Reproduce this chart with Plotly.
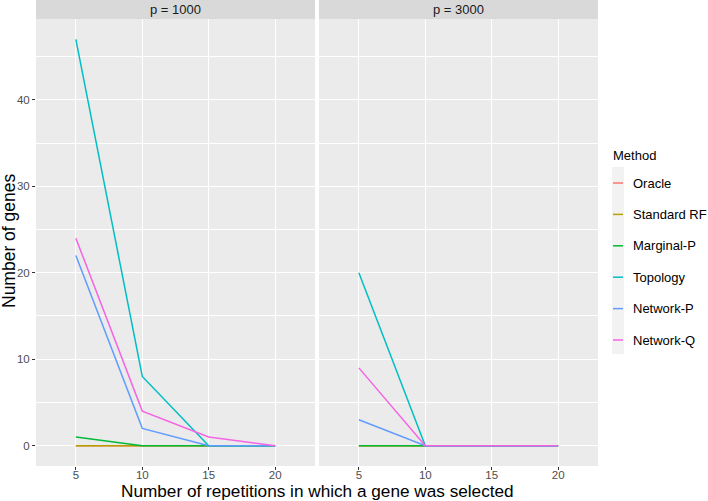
import plotly.graph_objects as go

# ---- data ----
reps = [5, 10, 15, 20]
methods = ["Oracle", "Standard RF", "Marginal-P", "Topology", "Network-P", "Network-Q"]
colors = ["#F8766D", "#B79F00", "#00BA38", "#00BFC4", "#619CFF", "#F564E3"]
panels = ["p = 1000", "p = 3000"]

p1000_oracle = [0, 0, 0, 0]
p1000_standard_rf = [0, 0, 0, 0]
p1000_marginal_p = [1, 0, 0, 0]
p1000_topology = [47, 8, 0, 0]
p1000_network_p = [22, 2, 0, 0]
p1000_network_q = [24, 4, 1, 0]

p3000_oracle = [0, 0, 0, 0]
p3000_standard_rf = [0, 0, 0, 0]
p3000_marginal_p = [0, 0, 0, 0]
p3000_topology = [20, 0, 0, 0]
p3000_network_p = [3, 0, 0, 0]
p3000_network_q = [9, 0, 0, 0]

y_ticks = [0, 10, 20, 30, 40]
y_minor = [5, 15, 25, 35, 45]

panel_data = [
    [p1000_oracle, p1000_standard_rf, p1000_marginal_p, p1000_topology, p1000_network_p, p1000_network_q],
    [p3000_oracle, p3000_standard_rf, p3000_marginal_p, p3000_topology, p3000_network_p, p3000_network_q],
]

# ---- layout geometry (pixels) ----
W, H = 708, 501
L, R, T, B = 36, 598, 19, 466
PW, PH = R - L, B - T
FONT = "Liberation Sans, Arial, sans-serif"


def px_x(px):
    return (px - L) / PW


def px_y(py):
    return (B - py) / PH


fig = go.Figure()
for pi, series in enumerate(panel_data):
    xa = "x" if pi == 0 else "x2"
    ya = "y" if pi == 0 else "y2"
    for m, c, vals in zip(methods, colors, series):
        fig.add_trace(go.Scatter(
            x=reps, y=vals, mode="lines", name=m,
            line=dict(color=c, width=1.5),
            xaxis=xa, yaxis=ya, showlegend=False,
        ))

d1 = (315 - L) / PW
d2 = (319 - L) / PW

axis_common = dict(
    range=[2, 23], tickvals=reps, showgrid=True, gridcolor="white", gridwidth=1.1,
    zeroline=False, ticks="outside", ticklen=3, tickcolor="#333333", automargin=False,
    tickfont=dict(size=11.5, color="#4D4D4D", family=FONT), showline=False,
    ticklabelstandoff=-5,
)
yaxis_common = dict(
    range=[-2.35, 49.35], tickvals=y_ticks, showgrid=True, gridcolor="white", gridwidth=1.1,
    zeroline=False, showline=False, automargin=False,
    minor=dict(tickvals=y_minor, showgrid=True, gridcolor="white", gridwidth=0.5),
)

fig.update_layout(
    template="none",
    width=W, height=H, autosize=False,
    margin=dict(l=L, r=W - R, t=T, b=H - B, pad=0, autoexpand=False),
    paper_bgcolor="white", plot_bgcolor="#EBEBEB",
    font=dict(family=FONT, color="#1A1A1A"),
    showlegend=False,
    xaxis=dict(domain=[0, d1], anchor="y", **axis_common),
    xaxis2=dict(domain=[d2, 1], anchor="y2", **axis_common),
    yaxis=dict(domain=[0, 1], anchor="x", ticks="outside", ticklen=3, tickcolor="#333333",
               tickfont=dict(size=11.5, color="#4D4D4D", family=FONT), **yaxis_common),
    yaxis2=dict(domain=[0, 1], anchor="x2", matches="y", showticklabels=False, ticks="",
                **yaxis_common),
)

shapes = []
annotations = []
strip_h = 19 / PH
for pi, label in enumerate(panels):
    x0, x1 = (0, d1) if pi == 0 else (d2, 1)
    shapes.append(dict(type="rect", xref="paper", yref="paper", x0=x0, x1=x1,
                       y0=1, y1=1 + strip_h, fillcolor="#D9D9D9", line=dict(width=0), layer="below"))
    annotations.append(dict(text=label, xref="paper", yref="paper", x=(x0 + x1) / 2,
                            y=1 + strip_h / 2, showarrow=False, xanchor="center", yanchor="middle",
                            font=dict(size=13, color="#1A1A1A", family=FONT)))

# axis titles
annotations.append(dict(text="Number of repetitions in which a gene was selected",
                        xref="paper", yref="paper", x=px_x(317), y=px_y(491),
                        xanchor="center", yanchor="middle", showarrow=False,
                        font=dict(size=17.2, color="black", family=FONT)))
annotations.append(dict(text="Number of genes", xref="paper", yref="paper",
                        x=px_x(9), y=px_y(241), textangle=-90,
                        xanchor="center", yanchor="middle", showarrow=False,
                        font=dict(size=17.5, color="black", family=FONT)))

# legend (manual, ggplot style)
annotations.append(dict(text="Method", xref="paper", yref="paper", x=px_x(611), y=px_y(155),
                        xanchor="left", yanchor="middle", showarrow=False,
                        font=dict(size=13, color="black", family=FONT)))
shapes.append(dict(type="rect", xref="paper", yref="paper", x0=px_x(612), x1=px_x(624),
                   y0=px_y(354), y1=px_y(167), fillcolor="#F2F2F2", line=dict(width=0)))
for i, (m, c) in enumerate(zip(methods, colors)):
    yy = 183 + 31.4 * i
    shapes.append(dict(type="line", xref="paper", yref="paper", x0=px_x(613), x1=px_x(623),
                       y0=px_y(yy), y1=px_y(yy), line=dict(color=c, width=1.5)))
    annotations.append(dict(text=m, xref="paper", yref="paper", x=px_x(631), y=px_y(yy),
                            xanchor="left", yanchor="middle", showarrow=False,
                            font=dict(size=13, color="black", family=FONT)))

fig.update_layout(shapes=shapes, annotations=annotations)
fig.write_html(
    "out.html",
    config={"displayModeBar": False},
    post_script="document.body.style.margin='0';document.body.style.overflow='hidden';",
)
